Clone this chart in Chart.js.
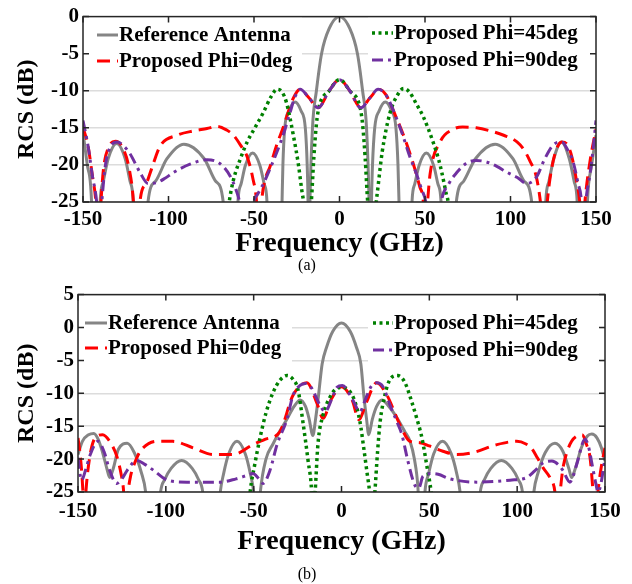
<!DOCTYPE html>
<html>
<head>
<meta charset="utf-8">
<script src="https://cdn.jsdelivr.net/npm/chart.js@4.4.0/dist/chart.umd.min.js"></script>
<style>
body { margin:0; background:#fff; width:632px; height:584px; position:relative; overflow:hidden; font-family:"Liberation Serif","Times New Roman",serif; }
#wrapA { position:absolute; left:0; top:0; width:632px; height:258px; }
#wrapB { position:absolute; left:0; top:278px; width:632px; height:278px; }
.cap { position:absolute; left:0; width:614px; text-align:center; font-size:16px; color:#000; }
</style>
</head>
<body>
<div id="wrapA"><canvas id="chartA" width="632" height="258"></canvas></div>
<div class="cap" style="top:256px">(a)</div>
<div id="wrapB"><canvas id="chartB" width="632" height="278"></canvas></div>
<div class="cap" style="top:565px">(b)</div>
<script>
// frequency (GHz), RCS (dB) pairs; values below -25 are clipped by the axis
const labels = ["Reference Antenna", "Proposed Phi=0deg", "Proposed Phi=45deg", "Proposed Phi=90deg"];

// (a)
const refA = [[-150,-15.6],[-147.5,-20],[-145,-25],[-144,-35],[-141.2,-35],[-140,-25],[-138.1,-22.2],[-135.2,-19.1],[-130.3,-17.1],[-125.4,-19.1],[-122.5,-22.2],[-120.6,-25],[-119.4,-35],[-113.5,-35],[-112,-25],[-107.6,-22.2],[-101,-19.2],[-91,-17.2],[-79,-19.2],[-72.4,-22.2],[-68,-25],[-66.5,-35],[-60.5,-35],[-59.4,-25],[-57.6,-22.6],[-55.1,-20.1],[-50.8,-18.4],[-46.5,-20.1],[-44,-22.6],[-42.4,-25],[-41.4,-35],[-34.5,-35],[-33.6,-25],[-33.1,-20],[-32,-15],[-29.5,-12.7],[-26,-11.5],[-22.5,-12.7],[-20,-15],[-18.9,-20],[-18.4,-25],[-18,-35],[-17.3,-25],[-15.8,-15],[-13.5,-10],[-10.5,-5],[-6,-1.6],[0,0],[6,-1.6],[10.5,-5],[13.5,-10],[15.8,-15],[17.3,-25],[18,-35],[18.7,-25],[19.3,-20],[20.6,-15],[23.2,-12.7],[26.8,-11.5],[30.4,-12.7],[33,-15],[34.2,-20],[34.8,-25],[35.8,-35],[41.4,-35],[42.4,-25],[44,-22.6],[46.5,-20.1],[50.8,-18.4],[55.1,-20.1],[57.6,-22.6],[59.4,-25],[60.5,-35],[66.5,-35],[68.3,-25],[72.6,-22.2],[79.4,-19.2],[91,-17.2],[101.5,-19.2],[108,-22.2],[112.4,-25],[113.8,-35],[119.4,-35],[120.6,-25],[122.5,-22.2],[125.4,-19.1],[129.8,-16.9],[134.3,-19.1],[137.2,-22.2],[139,-25],[140.2,-35],[143.8,-35],[145,-25],[147.5,-20],[150,-16]];
const phi0A = [[-150,-14.9],[-147,-17.5],[-144.5,-21.5],[-142.5,-25],[-141,-32],[-139.5,-25],[-138,-20.5],[-135,-17.6],[-131,-16.8],[-127,-17.6],[-123,-20.5],[-120.5,-25],[-119,-32],[-118,-32],[-116.7,-25],[-113,-22.5],[-110,-20.6],[-105,-17.5],[-95,-16],[-85,-15.4],[-77.5,-15.1],[-71.6,-14.8],[-66,-15.3],[-62,-16],[-58,-17.3],[-54,-18.9],[-50.6,-21.9],[-48.5,-25],[-47,-32],[-45.5,-25],[-43.5,-22],[-40.6,-20.2],[-37,-17.5],[-33,-15],[-27,-11],[-23,-9.8],[-18,-10.9],[-12.5,-12.3],[-6,-10],[0,-8.5],[6,-10],[12.5,-12.3],[18,-10.9],[23,-9.8],[27,-10.5],[33,-13.5],[39.5,-17.3],[44,-20.5],[47,-23],[49,-25],[50,-30],[51.5,-25],[53,-21.2],[58.8,-16.9],[66.4,-15.2],[72,-14.9],[80,-15],[88,-15.4],[96,-16],[103.8,-16.9],[108,-18],[111.4,-19.5],[115,-21.5],[117.5,-25],[119.5,-30],[121.5,-25],[123,-22],[126,-18.5],[130,-16.9],[133,-17.2],[136,-19],[138.5,-22],[140.5,-25],[142,-30],[143.5,-25],[146.5,-19.5],[150,-15.2]];
const phi45A = [[-67,-30],[-64.5,-25],[-62,-22],[-58,-19.2],[-54,-16.9],[-49,-14.8],[-44.7,-13],[-40,-10.8],[-36.5,-9.8],[-33.5,-10.2],[-31,-11.6],[-27,-16],[-24,-20],[-22,-23.5],[-21,-25],[-19,-30],[-16.5,-25],[-15,-19],[-13.5,-14.5],[-12,-12.2],[-6,-10],[0,-8.5],[6,-10],[12,-12.2],[13.5,-14.5],[15,-19],[16.5,-25],[19.5,-30],[21.5,-25],[22.5,-23],[25,-18.2],[29.5,-13],[33.6,-10.7],[37.5,-9.7],[41,-10.2],[45,-11.8],[49,-13.5],[54.7,-16.9],[58,-19.3],[60,-21.2],[62.5,-24],[63.5,-25],[65,-30]];
const phi90A = [[-150,-14],[-147,-17.5],[-144.5,-21.5],[-142,-25],[-140.5,-30],[-139,-25],[-137,-20.2],[-134.5,-17.8],[-130,-16.9],[-126,-17.5],[-122.5,-18.5],[-116.7,-21],[-112,-22.5],[-107,-22.4],[-102,-21.8],[-97,-21],[-87.4,-19.9],[-77.5,-19.3],[-70,-19.8],[-64,-21.5],[-60,-23.7],[-58.5,-25],[-56,-30],[-52,-30],[-50,-25],[-48,-24],[-44,-22.3],[-40.6,-20.5],[-37,-18.5],[-33,-16],[-29,-13],[-26,-10.8],[-23,-9.8],[-18,-10.9],[-12.5,-12.3],[-6,-10],[0,-8.5],[6,-10],[12.5,-12.3],[18,-10.9],[22.6,-9.8],[27,-10.5],[33,-13.5],[37,-16],[41,-18.8],[45,-21.2],[48,-23.3],[50.5,-25],[53,-30],[57,-30],[59.5,-25],[64,-22.5],[68.7,-21],[74,-19.8],[80,-19.4],[86,-19.6],[92,-20.2],[98,-21],[104,-21.7],[109.6,-22.5],[115,-21.7],[120,-19.2],[125,-17.3],[130,-16.9],[133.5,-18],[136.5,-19.5],[139.5,-22.5],[141.5,-25],[142.5,-30],[144,-25],[146.5,-21.2],[148.5,-17.5],[150,-14]];

// (b)
const refB = [[-150,-19.3],[-147.5,-17.3],[-144,-16.3],[-141,-16.1],[-138.5,-17],[-136,-19],[-133.5,-21.5],[-132,-22.8],[-130,-21.5],[-127,-18.5],[-122,-17.6],[-118,-19],[-114,-22],[-111.5,-25],[-110,-30],[-104.5,-30],[-103,-25],[-100.6,-23.1],[-97,-21.4],[-91,-20.2],[-85,-21.4],[-81.4,-23.1],[-79,-25],[-77.5,-30],[-70.5,-30],[-69,-25],[-67.1,-22.2],[-64.2,-19.2],[-59.5,-17.3],[-54.8,-19.2],[-51.9,-22.2],[-50,-25],[-48.5,-30],[-47.5,-30],[-46.2,-25],[-43,-20],[-39,-17.7],[-35,-15.7],[-31,-13.9],[-27,-12],[-23.6,-11],[-20.5,-12],[-18.5,-13.8],[-16.3,-16.4],[-14.8,-14],[-13.2,-10.6],[-11,-5.5],[-8.5,-3],[-5,-0.6],[0,0.7],[5,-0.6],[8.5,-3],[11,-5.5],[12.8,-10.6],[14.3,-14],[15.5,-16.3],[17.5,-14],[20,-12],[23,-11],[27,-12],[32,-13.9],[36,-15.8],[39,-17.3],[41.5,-20],[43.5,-24.3],[44.5,-30],[46.5,-30],[47.5,-25],[49.6,-22.2],[52.5,-19.2],[57.5,-17.3],[62.5,-19.2],[65.6,-22.2],[67.5,-25],[69,-30],[77.5,-30],[79,-25],[81.4,-23.1],[85,-21.4],[91,-20.2],[97,-21.4],[100.6,-23.1],[103,-25],[104.5,-30],[108,-30],[109.5,-25],[112,-22],[116,-19],[121.5,-17.6],[126,-18.8],[129.5,-21.5],[131,-22.8],[133,-21.5],[136.5,-18.3],[140,-16.5],[142.5,-16.2],[145.5,-16.8],[148,-18.3],[150,-20.3]];
const phi0B = [[-150,-16.8],[-148.5,-20],[-147.2,-25],[-146.5,-30],[-145.5,-25],[-143.5,-20],[-140.3,-16.8],[-136,-16.3],[-131.5,-17.5],[-128,-19.5],[-125.3,-22.5],[-124,-25],[-123,-30],[-121.5,-25],[-120,-22.5],[-118.7,-21.3],[-116,-19.5],[-113,-18.3],[-105,-17.3],[-96,-17.3],[-84.5,-18.3],[-73,-19.3],[-61.7,-19.3],[-50.4,-17.8],[-43.6,-17],[-35,-15.8],[-27.6,-10.3],[-19.7,-8.4],[-14,-11.5],[-10.5,-13.8],[-6,-11],[0,-9],[6,-11],[10,-14],[14,-11.5],[20,-8.4],[25.9,-10.3],[33.3,-14.8],[39,-17.3],[44.6,-17.5],[50,-18],[57.7,-18.8],[65.7,-19.3],[75,-19],[88.5,-17.8],[99.8,-17.3],[105,-17.7],[108,-18.3],[111.5,-19.8],[114.7,-21.3],[119,-23],[121.5,-25],[123,-30],[124.5,-25],[126,-21.5],[128,-19.2],[131,-17.3],[134,-16.5],[137,-16.3],[139.5,-17.8],[141.5,-19.8],[143.2,-25],[144.5,-30],[146,-25],[148,-21],[150,-18.3]];
const phi45B = [[-53.5,-30],[-52,-25],[-49.5,-21],[-46.4,-16.8],[-43,-13],[-39,-9.9],[-35,-8],[-31,-7.3],[-27.5,-7.9],[-24.8,-9.4],[-22,-14.3],[-19,-20.3],[-17,-25],[-16.3,-30],[-15,-25],[-13.4,-17.7],[-10.5,-13.3],[-7,-10.8],[-3.5,-9.4],[0,-9.1],[3.5,-9.4],[7,-10.8],[10.5,-14.3],[12.5,-18],[14.5,-22],[16,-25],[17.5,-30],[19,-25],[20.5,-19],[22,-14.3],[24.5,-10.5],[27.6,-7.9],[32,-7.3],[36,-8.3],[40,-11.3],[42.5,-13.5],[45.8,-16.8],[49,-21.7],[51,-25],[52.5,-30]];
const phi90B = [[-150,-19.8],[-148,-23.2],[-145.5,-21.5],[-143,-19.3],[-138.6,-17.3],[-135,-19],[-132,-21.7],[-128,-23.7],[-125,-23],[-122,-21.7],[-116.5,-20.2],[-112,-20.8],[-107,-21.7],[-99,-23.2],[-88,-23.5],[-69,-23.5],[-60,-23],[-54,-22.5],[-50.4,-22.2],[-47,-23],[-44.7,-23.7],[-40.7,-21.7],[-36.7,-17.8],[-31,-13.9],[-27.6,-10.3],[-23.6,-8.8],[-20.5,-8.5],[-17.5,-9],[-12.3,-11.8],[-9.4,-12.8],[-5,-10.5],[-2.6,-9.1],[0.5,-8.8],[6,-10.8],[10.5,-12.8],[13.5,-11],[17,-8.9],[20,-8.4],[23.6,-9],[27.6,-11.8],[31.5,-14.3],[34.4,-16.3],[37.8,-20.3],[41.8,-24],[44,-24.4],[46.4,-22.6],[51.5,-22.2],[55,-22.3],[61.7,-23],[77,-23.5],[96,-23.2],[105.5,-22.8],[110,-21.8],[114.7,-20.6],[119.8,-20.3],[124,-21],[126,-21.7],[130,-23.5],[132,-22.5],[134,-20.7],[138.6,-17],[140.5,-18],[143,-21.3],[145,-24],[146,-25],[147.5,-24],[150,-19.8]];

const serif = "'Liberation Serif', 'Times New Roman', serif";
const styles = [
    {color: "#858585", dash: [], width: 3, order: 4},
    {color: "#ff0000", dash: [13, 7], width: 3, order: 3},
    {color: "#008000", dash: [3, 3.5], width: 3.5, order: 2},
    {color: "#7030a0", dash: [11, 5, 3, 5], width: 3, order: 1},
];

function toPts(pairs) {
    return pairs.map(p => ({x: p[0], y: p[1]}));
}

// white legend boxes + entries, drawn over the curves
const legendPlugin = {
    id: "boxLegend",
    afterDatasetsDraw(chart, args, opts) {
        const ctx = chart.ctx;
        ctx.save();
        ctx.fillStyle = "#fff";
        opts.boxes.forEach(b => ctx.fillRect(b[0], b[1], b[2], b[3]));
        opts.items.forEach(it => {
            const st = styles[it.i];
            ctx.strokeStyle = st.color;
            ctx.lineWidth = st.width;
            ctx.setLineDash(st.dash);
            ctx.beginPath();
            ctx.moveTo(it.x1, it.y);
            ctx.lineTo(it.x2, it.y);
            ctx.stroke();
            ctx.setLineDash([]);
            ctx.fillStyle = "#000";
            ctx.font = "bold 21px " + serif;
            ctx.textBaseline = "middle";
            ctx.fillText(labels[it.i], it.x2 + 1, it.y + 1);
        });
        ctx.restore();
    }
};

// MATLAB-like box with inward ticks
const framePlugin = {
    id: "frame",
    afterDraw(chart) {
        const {ctx, chartArea: a, scales} = chart;
        ctx.save();
        ctx.strokeStyle = "#262626";
        ctx.lineWidth = 1.5;
        ctx.setLineDash([]);
        ctx.strokeRect(a.left, a.top, a.right - a.left, a.bottom - a.top);
        ctx.beginPath();
        scales.x.ticks.forEach(t => {
            const px = scales.x.getPixelForValue(t.value);
            ctx.moveTo(px, a.bottom); ctx.lineTo(px, a.bottom - 6);
            ctx.moveTo(px, a.top); ctx.lineTo(px, a.top + 6);
        });
        scales.y.ticks.forEach(t => {
            const py = scales.y.getPixelForValue(t.value);
            ctx.moveTo(a.left, py); ctx.lineTo(a.left + 6, py);
            ctx.moveTo(a.right, py); ctx.lineTo(a.right - 6, py);
        });
        ctx.stroke();
        ctx.restore();
    }
};

function makeChart(id, series, yMin, yMax, g, legend) {
    const datasets = series.map((s, i) => ({
        label: labels[i],
        data: toPts(s),
        borderColor: styles[i].color,
        borderDash: styles[i].dash,
        borderWidth: styles[i].width,
        order: styles[i].order,
        pointRadius: 0,
        fill: false,
        cubicInterpolationMode: "monotone",
    }));
    return new Chart(document.getElementById(id), {
        type: "line",
        data: {datasets},
        plugins: [legendPlugin, framePlugin],
        options: {
            responsive: false,
            animation: false,
            devicePixelRatio: 1,
            layout: {padding: {top: g.top, right: g.right, left: 0, bottom: 0}},
            plugins: {
                legend: {display: false},
                tooltip: {enabled: false},
                boxLegend: legend,
            },
            scales: {
                x: {
                    type: "linear", min: -150, max: 150,
                    ticks: {stepSize: 50, color: "#000", padding: g.xPad, maxRotation: 0,
                        font: {family: serif, size: 21, weight: "bold"}},
                    grid: {display: false, drawTicks: false},
                    border: {display: false},
                    title: {display: true, text: "Frequency (GHz)", color: "#000", padding: 0,
                        font: {family: serif, size: 28, weight: "bold", lineHeight: 1}},
                    afterFit(s) { s.height = g.xh; },
                },
                y: {
                    min: yMin, max: yMax,
                    ticks: {stepSize: 5, color: "#000", padding: 4,
                        font: {family: serif, size: 21, weight: "bold"}},
                    grid: {color: "#dcdcdc", lineWidth: 1.5, drawTicks: false},
                    border: {display: false},
                    title: {display: true, text: "RCS (dB)", color: "#000", padding: {top: 15, bottom: 0},
                        font: {family: serif, size: 24, weight: "bold", lineHeight: 1}},
                    afterFit(s) { s.width = g.left; },
                },
            },
        },
    });
}

makeChart("chartA", [refA, phi0A, phi45A, phi90A], -25, 0,
    {top: 11, right: 36, left: 83, xh: 56, xPad: 5},
    {
        boxes: [[84, 12, 218, 61], [368, 12, 227, 61]],
        items: [
            {i: 0, x1: 97, x2: 118, y: 35},
            {i: 1, x1: 97, x2: 118, y: 61},
            {i: 2, x1: 372, x2: 393, y: 33},
            {i: 3, x1: 372, x2: 393, y: 60},
        ],
    });

makeChart("chartB", [refB, phi0B, phi45B, phi90B], -25, 5,
    {top: 12, right: 27, left: 78, xh: 64, xPad: 7},
    {
        boxes: [[79, 24, 213, 61], [368, 24, 232, 61]],
        items: [
            {i: 0, x1: 85, x2: 107, y: 45},
            {i: 1, x1: 85, x2: 107, y: 70},
            {i: 2, x1: 373, x2: 393, y: 45},
            {i: 3, x1: 373, x2: 393, y: 72},
        ],
    });
</script>
</body>
</html>
